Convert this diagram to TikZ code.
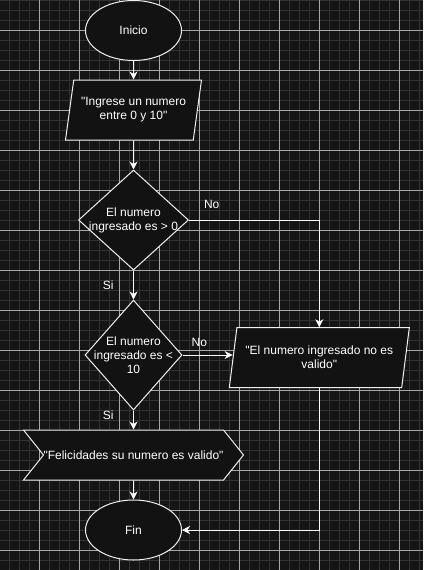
\documentclass[tikz,border=0pt]{standalone}
\usepackage{fontspec}
\setmainfont{Liberation Sans}[Ligatures=TeXOff]
\usetikzlibrary{shapes.geometric,shapes.symbols,arrows.meta}

\definecolor{fondo}{HTML}{151515}
\definecolor{relleno}{HTML}{121212}
\definecolor{rejilla}{HTML}{323232}
\definecolor{rejillamayor}{HTML}{A8A8A8}
\definecolor{trazo}{HTML}{F0F0F0}

\tikzset{
    base/.style={draw=trazo, fill=relleno, line width=1pt, text=white,
        font=\fontsize{12}{14}\selectfont, align=center, inner sep=0pt},
    terminal/.style={base, ellipse, minimum width=96pt, minimum height=60pt},
    datos/.style={base, trapezium, trapezium left angle=71.57,
        trapezium right angle=108.43, trapezium stretches body=true,
        minimum height=60pt},
    decision/.style={base, diamond, minimum width=110pt, minimum height=100pt},
    pantalla/.style={base, signal, signal from=west, signal to=east,
        signal pointer angle=102.7, minimum width=220pt, minimum height=50pt},
    texto/.style={text=white, font=\fontsize{12}{14}\selectfont,
        align=center, inner sep=0pt},
    flecha/.style={draw=white, line width=1pt,
        -{Stealth[length=8pt,width=8pt,inset=2.5pt]}},
}

\begin{document}
\begin{tikzpicture}[x=1pt, y=-1pt]
    \useasboundingbox (0,0) rectangle (423,570);

    % 背景与网格
    \fill[fondo] (0,0) rectangle (423,570);
    \foreach \i in {0,...,41} \draw[rejilla, line width=1pt] (\i*10+9.3,0) -- ++(0,570);
    \foreach \j in {0,...,56} \draw[rejilla, line width=1pt] (0,\j*10+0.3) -- ++(423,0);
    \foreach \i in {1,...,10} \draw[rejillamayor, line width=1pt] (\i*40-0.7,0) -- ++(0,570);
    \foreach \j in {0,...,13} \draw[rejillamayor, line width=1pt] (0,\j*40+30.3) -- ++(423,0);

    % 流程节点
    \node[terminal] (inicio) at (133.5,30.5) {Inicio};
    \node[datos, minimum width=136pt] (ingreso) at (133.5,110) {"Ingrese un numero\\entre 0 y 10"};
    \node[decision] (cond1) at (133.5,220) {};
    \node[texto] (tcond1) at (cond1) {El numero\\ingresado es > 0};
    \node[decision, minimum width=97pt, minimum height=110pt] (cond2) at (133.5,355) {};
    \node[texto] (tcond2) at (cond2) {El numero\\ingresado es <\\10};
    \node[datos, minimum width=180pt] (invalido) at (319.3,357.7) {"El numero ingresado no es\\valido"};
    \node[pantalla] (valido) at (133.5,455) {"Felicidades su numero es valido"};
    \node[terminal] (fin) at (133.5,530) {Fin};

    % 连接线
    \draw[flecha] (inicio) -- (ingreso);
    \draw[flecha] (ingreso) -- (cond1);
    \draw[flecha] (cond1) -- (cond2);
    \draw[flecha] (cond2) -- (valido);
    \draw[flecha] (valido) -- (fin);
    \draw[flecha] (cond1.east) -| (invalido.north);
    \draw[flecha] (cond2.east) -- (cond2.east -| invalido.west);
    \draw[flecha] (invalido.south) |- (fin.east);

    % 标记分支
    \node[texto] (no1) at (211.7,204.3) {No};
    \node[texto] (si1) at (108.3,285) {Si};
    \node[texto] (no2) at (199.3,342.7) {No};
    \node[texto] (si2) at (108.3,415) {Si};
\end{tikzpicture}
\end{document}
